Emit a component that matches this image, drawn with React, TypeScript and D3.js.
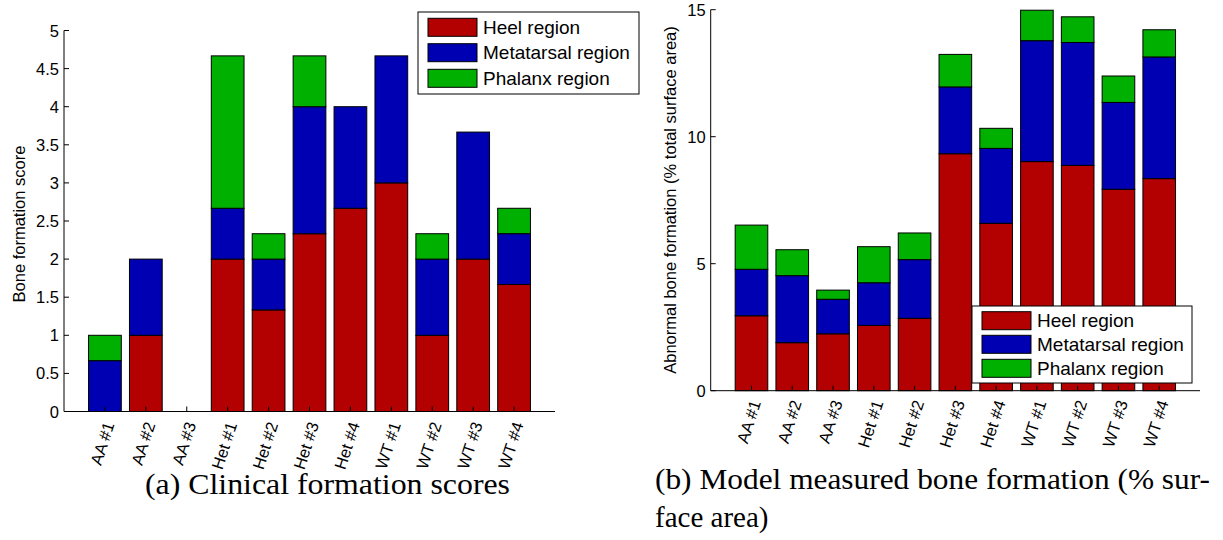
import React from "react";
import * as d3 from "d3";

// Sample labels shared by both panels
const categories = ["AA #1", "AA #2", "AA #3", "Het #1", "Het #2", "Het #3", "Het #4", "WT #1", "WT #2", "WT #3", "WT #4"];
const regionNames = ["Heel region", "Metatarsal region", "Phalanx region"];
const regionColors = ["#b30000", "#0000b3", "#00b000"];

// (a) Clinical formation scores, per region
const clinicalHeel = [0, 1, 0, 2, 1.333, 2.333, 2.667, 3, 1, 2, 1.667];
const clinicalMetatarsal = [0.667, 1, 0, 0.667, 0.667, 1.667, 1.333, 1.667, 1, 1.667, 0.667];
const clinicalPhalanx = [0.333, 0, 0, 2, 0.333, 0.667, 0, 0, 0.333, 0, 0.333];
const clinicalTicks = [0, 0.5, 1, 1.5, 2, 2.5, 3, 3.5, 4, 4.5, 5];

// (b) Model measured bone formation (% surface area), per region
const modelHeel = [2.95, 1.89, 2.24, 2.57, 2.85, 9.33, 6.59, 9.02, 8.87, 7.93, 8.35];
const modelMetatarsal = [1.83, 2.64, 1.36, 1.68, 2.31, 2.63, 2.95, 4.76, 4.84, 3.42, 4.79];
const modelPhalanx = [1.74, 1.02, 0.36, 1.42, 1.05, 1.28, 0.79, 1.2, 1.01, 1.04, 1.07];
const modelTicks = [0, 5, 10, 15];

const SANS = "Liberation Sans, Arial, Helvetica, sans-serif";
const SERIF = "Liberation Serif, Times New Roman, serif";
const AXIS_FONT = 16.5;

type PanelProps = {
  series: number[][];
  yMax: number;
  ticks: number[];
  x0: number;
  x1: number;
  yTop: number;
  yBottom: number;
  yLabel: string;
  yLabelX: number;
  yLabelY: number;
  legend: { x: number; y: number; w: number; h: number; rowY: number[] };
  labelGap: number;
};

function Panel(p: PanelProps) {
  const x = d3.scaleLinear().domain([0, categories.length + 1]).range([p.x0, p.x1]);
  const y = d3.scaleLinear().domain([0, p.yMax]).range([p.yBottom, p.yTop]);
  const step = x(1) - x(0);
  const bw = step * 0.8;

  const rows = categories.map((c, i) => {
    const o: any = { c };
    regionNames.forEach((r, k) => (o[r] = p.series[k][i]));
    return o;
  });
  const stacked = d3.stack<any>().keys(regionNames)(rows);

  return (
    <g>
      {stacked.map((layer, k) => (
        <g key={k}>
          {layer.map((d, i) => {
            const h = y(d[0]) - y(d[1]);
            const zero = h < 0.5;
            return (
              <rect
                key={i}
                x={x(i + 1) - bw / 2}
                y={y(d[1])}
                width={bw}
                height={Math.max(0, h)}
                fill={regionColors[k]}
                stroke={zero ? regionColors[k] : "#000"}
                strokeWidth={1}
              />
            );
          })}
        </g>
      ))}
      {/* axes */}
      <line x1={p.x0} x2={p.x0} y1={p.yTop} y2={p.yBottom} stroke="#000" strokeWidth={1} />
      <line x1={p.x0} x2={p.x1} y1={p.yBottom} y2={p.yBottom} stroke="#000" strokeWidth={1} />
      {p.ticks.map((t) => (
        <g key={t}>
          <line x1={p.x0} x2={p.x0 + 5} y1={y(t)} y2={y(t)} stroke="#000" />
          <text x={p.x0 - 5} y={y(t)} textAnchor="end" dominantBaseline="central" fontFamily={SANS} fontSize={AXIS_FONT}>
            {String(t)}
          </text>
        </g>
      ))}
      {categories.map((c, i) => (
        <g key={c}>
          <line x1={x(i + 1)} x2={x(i + 1)} y1={p.yBottom} y2={p.yBottom - 5} stroke="#000" />
          <text
            transform={`translate(${x(i + 1) + 4},${p.yBottom + p.labelGap}) rotate(-72)`}
            textAnchor="end"
            dominantBaseline="central"
            fontFamily={SANS}
            fontSize={AXIS_FONT}
          >
            {c}
          </text>
        </g>
      ))}
      <text
        transform={`translate(${p.yLabelX},${p.yLabelY}) rotate(-90)`}
        textAnchor="middle"
        dominantBaseline="central"
        fontFamily={SANS}
        fontSize={AXIS_FONT}
      >
        {p.yLabel}
      </text>
      {/* legend */}
      <rect x={p.legend.x} y={p.legend.y} width={p.legend.w} height={p.legend.h} fill="#fff" stroke="#000" strokeWidth={1} />
      {regionNames.map((r, k) => (
        <g key={r}>
          <rect x={p.legend.x + 10} y={p.legend.rowY[k] - 9} width={49} height={18} fill={regionColors[k]} stroke="#000" />
          <text x={p.legend.x + 65} y={p.legend.rowY[k]} dominantBaseline="central" fontFamily={SANS} fontSize={19}>
            {r}
          </text>
        </g>
      ))}
    </g>
  );
}

export default function App() {
  return (
    <div style={{ position: "absolute", left: 0, top: 0 }}>
      <svg width={1223} height={540} viewBox="0 0 1223 540" style={{ display: "block", background: "#fff" }}>
        <Panel
          series={[clinicalHeel, clinicalMetatarsal, clinicalPhalanx]}
          yMax={5}
          ticks={clinicalTicks}
          x0={64}
          x1={555}
          yTop={30.5}
          yBottom={411.5}
          yLabel="Bone formation score"
          yLabelX={19}
          yLabelY={224}
          legend={{ x: 418, y: 12, w: 221, h: 82, rowY: [27.3, 52.7, 78.3] }}
          labelGap={11}
        />
        <Panel
          series={[modelHeel, modelMetatarsal, modelPhalanx]}
          yMax={15}
          ticks={modelTicks}
          x0={710.7}
          x1={1200}
          yTop={9.7}
          yBottom={390.7}
          yLabel="Abnormal bone formation (% total surface area)"
          yLabelX={670}
          yLabelY={200}
          legend={{ x: 972, y: 306, w: 220, h: 77, rowY: [320.7, 344.3, 368.3] }}
          labelGap={10}
        />
        <text x={145} y={494} fontFamily={SERIF} fontSize={29} textLength={365} lengthAdjust="spacingAndGlyphs">
          (a) Clinical formation scores
        </text>
        <text x={655} y={489} fontFamily={SERIF} fontSize={29} textLength={555} lengthAdjust="spacingAndGlyphs">
          (b) Model measured bone formation (% sur-
        </text>
        <text x={655} y={527} fontFamily={SERIF} fontSize={29}>
          face area)
        </text>
      </svg>
    </div>
  );
}
